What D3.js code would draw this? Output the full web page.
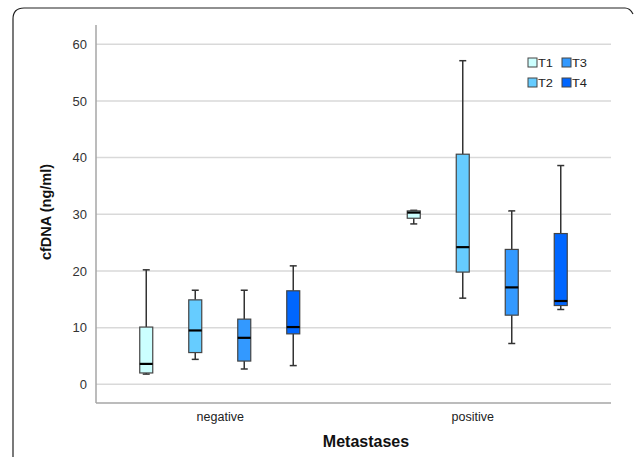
<!DOCTYPE html>
<html>
<head>
<meta charset="utf-8">
<script src="https://cdn.jsdelivr.net/npm/d3@7"></script>
<style>
  body { margin: 0; background: #fff; }
  svg { display: block; font-family: "Liberation Sans", Arial, sans-serif; }
</style>
</head>
<body>
<div id="chart"></div>
<script>
/* data */
var categories = ["negative", "positive"];
var series = ["T1", "T2", "T3", "T4"];
var colors = ["#ccffff", "#66ccff", "#3399ff", "#0066ff"];
var yTicks = [0, 10, 20, 30, 40, 50, 60];

/* five-number summaries: [min, q1, median, q3, max] per series */
var negative = [
  [1.8, 2.0, 3.6, 10.1, 20.2],
  [4.4, 5.6, 9.5, 14.9, 16.6],
  [2.7, 4.1, 8.2, 11.5, 16.6],
  [3.3, 8.9, 10.1, 16.5, 20.9]
];
var positive = [
  [28.3, 29.3, 30.3, 30.6, 30.7],
  [15.2, 19.8, 24.2, 40.6, 57.1],
  [7.2, 12.2, 17.1, 23.8, 30.6],
  [13.2, 13.9, 14.7, 26.6, 38.6]
];

var boxes = [];
categories.forEach(function (c, ci) {
  var arr = ci === 0 ? negative : positive;
  series.forEach(function (s, si) {
    var v = arr[si];
    boxes.push({cat: c, ser: s, color: colors[si],
      min: v[0], q1: v[1], med: v[2], q3: v[3], max: v[4]});
  });
});

var W = 635, H = 457;
var plotL = 96, plotR = 611, plotT = 25, plotB = 403;

var svg = d3.select("#chart").append("svg")
  .attr("width", W).attr("height", H);

/* frame of the figure panel */
svg.append("path")
  .attr("d", "M13,457 L13,19 Q13,8 24,8 L625,8 Q630,8 633,14")
  .attr("fill", "none").attr("stroke", "#222").attr("stroke-width", 1.2);

var y = d3.scaleLinear().domain([-3.3, 63.4]).range([plotB, plotT]);
var x = d3.scalePoint().domain(categories).range([plotL, plotR]).padding(0.4626);
var xs = d3.scalePoint().domain(series).range([-73.5, 73.5]);
var bw = 13;

/* grid lines */
svg.append("g").selectAll("line").data(yTicks).enter().append("line")
  .attr("x1", plotL).attr("x2", plotR)
  .attr("y1", function (d) { return y(d); })
  .attr("y2", function (d) { return y(d); })
  .attr("stroke", "#d9d9d9").attr("stroke-width", 1.5);

/* y axis */
var yAxis = svg.append("g")
  .attr("transform", "translate(" + plotL + ",0)")
  .call(d3.axisLeft(y).tickValues(yTicks).tickSize(0).tickPadding(9));
yAxis.select(".domain").remove();
yAxis.selectAll("text").attr("font-size", 13).attr("fill", "#333")
  .attr("font-family", "Liberation Sans, Arial, sans-serif");

svg.append("line")
  .attr("x1", plotL).attr("x2", plotL).attr("y1", plotT).attr("y2", plotB)
  .attr("stroke", "#a6a6a6").attr("stroke-width", 1.5);

/* x axis */
var xAxis = svg.append("g")
  .attr("transform", "translate(0," + plotB + ")")
  .call(d3.axisBottom(x).tickSize(0).tickPadding(9));
xAxis.select(".domain").remove();
xAxis.selectAll("text").attr("font-size", 12.5).attr("fill", "#222")
  .attr("font-family", "Liberation Sans, Arial, sans-serif");
/* the positive label sits a little left of its group in the reference */
xAxis.selectAll(".tick").filter(function (d) { return d === "positive"; })
  .select("text").attr("dx", -15);

svg.append("line")
  .attr("x1", plotL).attr("x2", plotR).attr("y1", plotB).attr("y2", plotB)
  .attr("stroke", "#a6a6a6").attr("stroke-width", 1.5);

/* boxes */
var g = svg.append("g").selectAll("g").data(boxes).enter().append("g")
  .attr("transform", function (d) { return "translate(" + (x(d.cat) + xs(d.ser)) + ",0)"; });

g.append("line")
  .attr("x1", 0).attr("x2", 0)
  .attr("y1", function (d) { return y(d.max); })
  .attr("y2", function (d) { return y(d.q3); })
  .attr("stroke", "#333").attr("stroke-width", 1.5);
g.append("line")
  .attr("x1", 0).attr("x2", 0)
  .attr("y1", function (d) { return y(d.q1); })
  .attr("y2", function (d) { return y(d.min); })
  .attr("stroke", "#333").attr("stroke-width", 1.5);
g.append("line")
  .attr("x1", -3.5).attr("x2", 3.5)
  .attr("y1", function (d) { return y(d.max); })
  .attr("y2", function (d) { return y(d.max); })
  .attr("stroke", "#333").attr("stroke-width", 1.5);
g.append("line")
  .attr("x1", -3.5).attr("x2", 3.5)
  .attr("y1", function (d) { return y(d.min); })
  .attr("y2", function (d) { return y(d.min); })
  .attr("stroke", "#333").attr("stroke-width", 1.5);
g.append("rect")
  .attr("x", -bw / 2).attr("width", bw)
  .attr("y", function (d) { return y(d.q3); })
  .attr("height", function (d) { return y(d.q1) - y(d.q3); })
  .attr("fill", function (d) { return d.color; })
  .attr("stroke", "#444").attr("stroke-width", 1.2);
g.append("line")
  .attr("x1", -bw / 2).attr("x2", bw / 2)
  .attr("y1", function (d) { return y(d.med); })
  .attr("y2", function (d) { return y(d.med); })
  .attr("stroke", "#000").attr("stroke-width", 2.2);

/* legend */
var legend = svg.append("g").selectAll("g").data(series).enter().append("g")
  .attr("transform", function (d, i) {
    return "translate(" + (528 + Math.floor(i / 2) * 34) + "," + (58 + (i % 2) * 20) + ")";
  });
legend.append("rect")
  .attr("width", 9).attr("height", 9)
  .attr("fill", function (d, i) { return colors[i]; })
  .attr("stroke", "#444").attr("stroke-width", 1);
legend.append("text")
  .attr("x", 10).attr("y", 9)
  .attr("font-size", 11.5).attr("fill", "#222")
  .attr("textLength", 15).attr("lengthAdjust", "spacingAndGlyphs")
  .text(function (d) { return d; });

/* titles */
svg.append("text")
  .attr("transform", "translate(51,212) rotate(-90)")
  .attr("text-anchor", "middle")
  .attr("font-size", 14.5).attr("font-weight", "bold").attr("fill", "#111")
  .text("cfDNA (ng/ml)");
svg.append("text")
  .attr("x", 366).attr("y", 447)
  .attr("text-anchor", "middle")
  .attr("font-size", 16).attr("font-weight", "bold").attr("fill", "#111")
  .text("Metastases");
</script>
</body>
</html>
